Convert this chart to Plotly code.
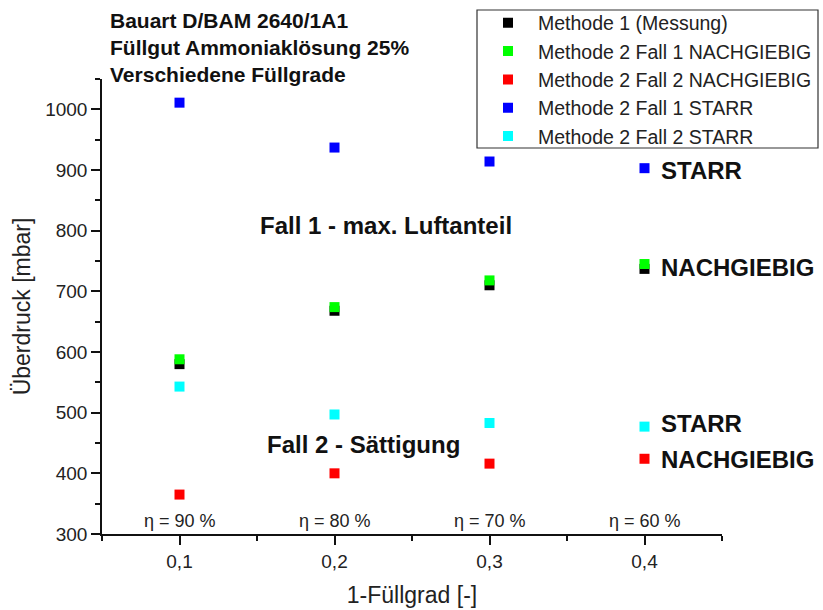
import plotly.graph_objects as go

# ---- data ----
x_vals = [0.1, 0.2, 0.3, 0.4]
methode1 = [580, 668, 710, 737]
m2_fall1_nach = [588, 674, 718, 745]
m2_fall2_nach = [365, 400, 416, 424]
m2_fall1_starr = [1011, 937, 914, 903]
m2_fall2_starr = [543, 497, 483, 477]

series_names = ["Methode 1 (Messung)", "Methode 2 Fall 1 NACHGIEBIG",
                "Methode 2 Fall 2 NACHGIEBIG", "Methode 2 Fall 1 STARR",
                "Methode 2 Fall 2 STARR"]
series_vals = [methode1, m2_fall1_nach, m2_fall2_nach, m2_fall1_starr, m2_fall2_starr]
series_colors = ["#000000", "#00FF00", "#FF0000", "#0000FF", "#00FFFF"]

x_ticks = [0.1, 0.2, 0.3, 0.4]
x_ticklabels = ["0,1", "0,2", "0,3", "0,4"]
eta_labels = ["η = 90 %", "η = 80 %", "η = 70 %", "η = 60 %"]
title_lines = ["Bauart D/BAM 2640/1A1", "Füllgut Ammoniaklösung 25%", "Verschiedene Füllgrade"]

FONT = "Liberation Sans, Arial, sans-serif"

fig = go.Figure()
for name, vals, col in zip(series_names, series_vals, series_colors):
    fig.add_trace(go.Scatter(
        x=x_vals, y=vals, mode="markers", name=name,
        marker=dict(symbol="square", size=10, color=col, line=dict(width=0)),
    ))

# plot-area geometry in pixels
W, H = 823, 610
L, R, T, B = 102, 101, 79, 76
pw, ph = W - L - R, H - T - B

def px_x(px):
    return (px - L) / pw

def px_y(py):
    return (H - B - py) / ph

annotations = []
for i, line in enumerate(title_lines):
    annotations.append(dict(
        x=px_x(108), y=px_y(20 + 27 * i), xref="paper", yref="paper",
        text=f"<b>{line}</b>", showarrow=False, xanchor="left", yanchor="middle",
        font=dict(family=FONT, size=21, color="#111111")))

for xv, lab in zip(x_ticks, eta_labels):
    annotations.append(dict(
        x=xv, y=321, xref="x", yref="y", text=lab, showarrow=False,
        xanchor="center", yanchor="middle",
        font=dict(family=FONT, size=18, color="#222222")))

side_labels = [("STARR", 900), ("NACHGIEBIG", 739), ("STARR", 482), ("NACHGIEBIG", 422)]
for txt, yv in side_labels:
    annotations.append(dict(
        x=0.4095, y=yv, xref="x", yref="y", text=f"<b>{txt}</b>", showarrow=False,
        xanchor="left", yanchor="middle",
        font=dict(family=FONT, size=24, color="#111111")))

annotations.append(dict(x=0.233, y=809, xref="x", yref="y",
                        text="<b>Fall 1 - max. Luftanteil</b>", showarrow=False,
                        font=dict(family=FONT, size=24, color="#111111")))
annotations.append(dict(x=0.219, y=447, xref="x", yref="y",
                        text="<b>Fall 2 - Sättigung</b>", showarrow=False,
                        font=dict(family=FONT, size=24, color="#111111")))

# legend frame
shapes = [dict(type="rect", xref="paper", yref="paper",
               x0=px_x(477), x1=px_x(818), y0=px_y(148), y1=px_y(10),
               line=dict(color="#333333", width=1.2), fillcolor="rgba(0,0,0,0)", layer="above")]

fig.update_layout(
    width=W, height=H,
    margin=dict(l=L, r=R, t=T, b=B, pad=0, autoexpand=False),
    paper_bgcolor="white", plot_bgcolor="white",
    font=dict(family=FONT, size=18, color="#222222"),
    showlegend=True,
    legend=dict(
        xref="container", yref="container",
        x=478 / W, y=1 - 3.5 / H, xanchor="left", yanchor="top",
        bgcolor="rgba(0,0,0,0)", borderwidth=0,
        font=dict(family=FONT, size=19.5, color="#222222"),
        itemwidth=50, tracegroupgap=0,
    ),
    xaxis=dict(
        range=[0.05, 0.45], tickvals=x_ticks, ticktext=x_ticklabels, automargin=False,
        showgrid=False, zeroline=False, showline=True, linecolor="#111111", linewidth=1.5,
        ticks="outside", ticklen=9, tickwidth=1.5, tickcolor="#111111",
        minor=dict(ticks="outside", ticklen=5, tickwidth=1.5, tickcolor="#111111", dtick=0.05, tick0=0.05, showgrid=False),
        title=dict(text="1-Füllgrad [-]", font=dict(size=23, family=FONT, color="#222222"), standoff=16),
        tickfont=dict(size=19),
    ),
    yaxis=dict(
        range=[300, 1050], dtick=100, tick0=300, automargin=False,
        showgrid=False, zeroline=False, showline=True, linecolor="#111111", linewidth=1.5,
        ticks="outside", ticklen=9, tickwidth=1.5, tickcolor="#111111",
        minor=dict(ticks="outside", ticklen=5, tickwidth=1.5, tickcolor="#111111", dtick=50, tick0=300, showgrid=False),
        title=dict(text="Überdruck [mbar]", font=dict(size=23, family=FONT, color="#222222"), standoff=8),
        tickfont=dict(size=19),
    ),
    annotations=annotations,
    shapes=shapes,
)

fig.write_html("out.html", config={"displayModeBar": False},
               post_script="document.body.style.margin='0';")
